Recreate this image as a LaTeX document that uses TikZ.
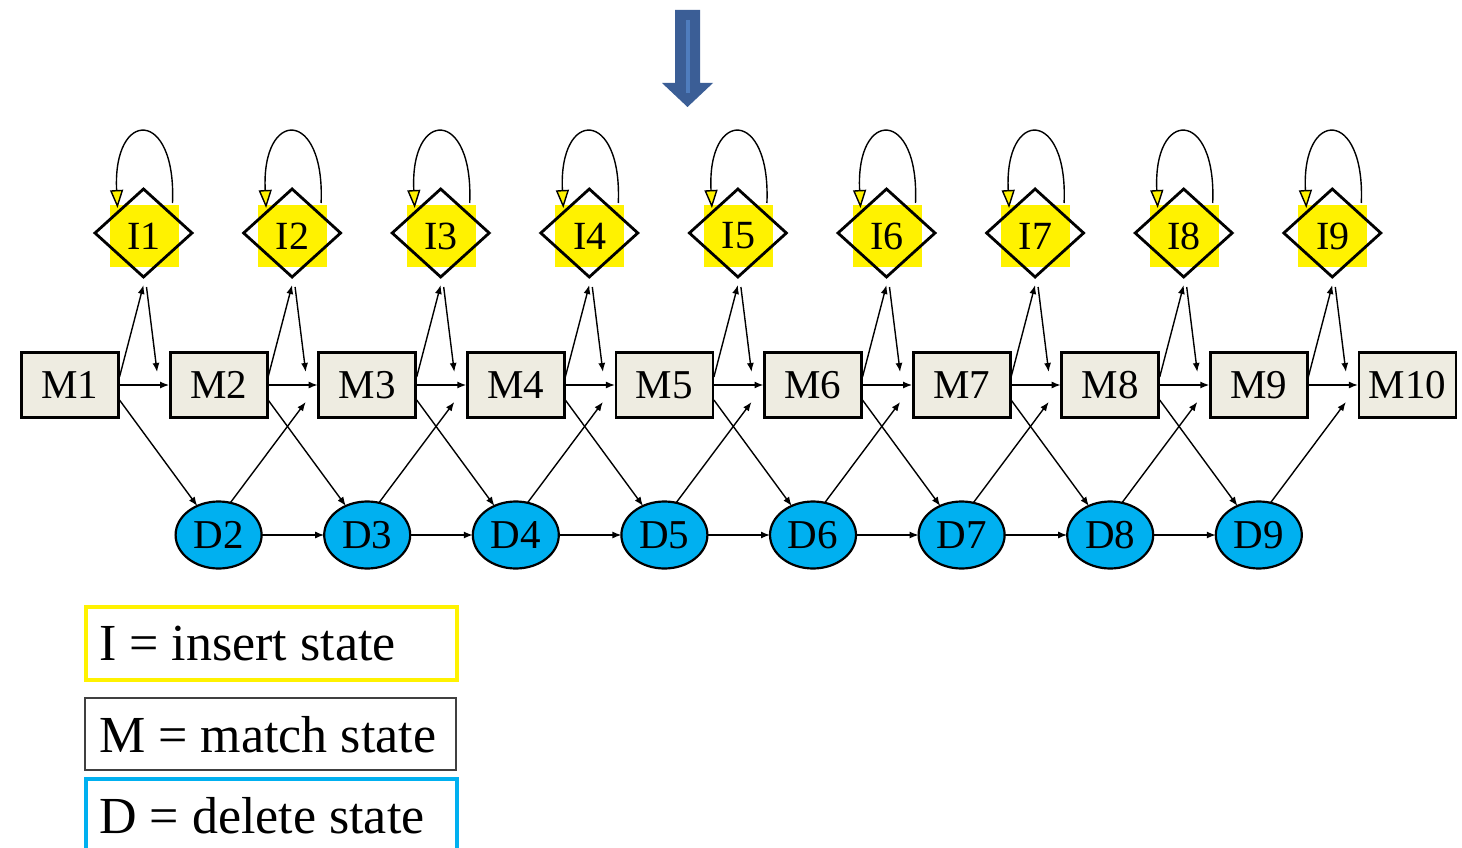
\documentclass[tikz,border=0pt]{standalone}
\usepackage{fontspec}
\setmainfont{Liberation Serif}
\usetikzlibrary{shapes.geometric,arrows.meta,calc}
\definecolor{mfill}{HTML}{EEECE1}
\definecolor{dfill}{HTML}{00B0F0}
\definecolor{arrowblue}{HTML}{3B5E96}
\definecolor{arrowlight}{HTML}{4F7DBE}
\definecolor{legendgray}{HTML}{404040}
\begin{document}
\begin{tikzpicture}[x=1pt,y=-1pt,
  mbox/.style={draw=black,line width=2.8pt,fill=mfill,minimum width=97pt,minimum height=65.5pt,inner sep=0pt,outer sep=0pt,font=\fontsize{41pt}{41pt}\selectfont},
  ibg/.style={fill=yellow,minimum width=69pt,minimum height=62pt,inner sep=0pt,font=\fontsize{40pt}{40pt}\selectfont},
  idia/.style={diamond,draw=black,line width=2.8pt,minimum width=97pt,minimum height=88pt,inner sep=0pt,outer sep=0pt},
  dell/.style={ellipse,draw=black,line width=2.2pt,fill=dfill,minimum width=86pt,minimum height=67pt,inner sep=0pt,outer sep=0pt,font=\fontsize{41pt}{41pt}\selectfont},
  conn/.style={draw=black,line width=1.4pt,-{Latex[length=9pt,width=7pt]}},
  loopst/.style={draw=black,line width=1.4pt,-{Triangle[length=18pt,width=13pt,fill=yellow]}},
  legbox/.style={minimum width=371pt,inner sep=0pt,anchor=north west},
  legtext/.style={anchor=base west,inner sep=0pt,font=\fontsize{52pt}{52pt}\selectfont}
]
\clip (0,0) rectangle (1462,848);
\fill[white] (0,0) rectangle (1462,848);

% top arrow
\fill[arrowblue] (675,10) -- (700,10) -- (700,83) -- (713,83) -- (687.5,107) -- (662,83) -- (675,83) -- cycle;
\fill[arrowlight] (686,20) rectangle (690,93);

% match states
\foreach \k in {1,...,10}
  \node[mbox] (M\k) at ({70+(\k-1)*148.6},385) {M\k};
% insert states
\foreach \k in {1,...,9} {
  \node[ibg] (Y\k) at ({144+(\k-1)*148.6},236) {I\k};
  \node[idia] (I\k) at ({143.5+(\k-1)*148.6},233) {};
}
% delete states
\foreach \k in {2,...,9}
  \node[dell] (D\k) at ({70+(\k-1)*148.6},535) {D\k};

% self loops on insert states
\foreach \k in {1,...,9}
  \draw[loopst] ($(I\k)+(29,-30)$) .. controls ($(I\k)+(33,-125)$) and ($(I\k)+(-31,-125)$) .. ($(I\k)+(-26,-25)$);

% match/insert connections
\foreach \k [count=\j from 2] in {1,...,9} {
  \draw[conn] ($(M\k.east)+(1,-8)$) -- ($(I\k.south)+(0,8)$);
  \draw[conn] ($(I\k.south)+(3,10)$) -- ($(M\j.west)+(-13,-13)$);
  \draw[conn] (M\k.east) -- ($(M\j.west)+(-1,0)$);
}
% match -> delete
\foreach \k [count=\j from 2] in {1,...,8}
  \draw[conn] ($(M\k.east)+(1,15)$) -- (D\j);
% delete -> match
\foreach \k [count=\j from 3] in {2,...,9}
  \draw[conn] (D\k.70) -- ($(M\j.west)+(-13,17)$);
% delete -> delete
\foreach \k [count=\j from 3] in {2,...,8}
  \draw[conn] (D\k) -- (D\j);

% legend
\node[legbox,draw=yellow,line width=4pt,minimum height=73pt] (LI) at (84,605) {};
\node[legbox,draw=legendgray,line width=2pt,minimum height=72pt] (LM) at (84,697) {};
\node[legbox,draw=dfill,line width=4pt,minimum height=90pt] (LD) at (84,777) {};
\node[legtext] (TI) at (99,660) {I = insert state};
\node[legtext] (TM) at (99,752) {M = match state};
\node[legtext] (TD) at (99,833) {D = delete state};
\end{tikzpicture}
\end{document}
